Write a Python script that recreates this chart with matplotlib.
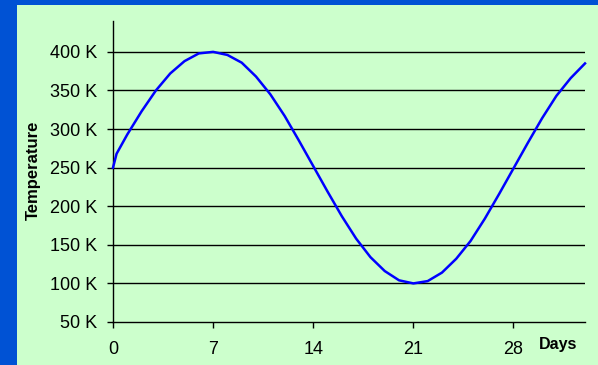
import matplotlib.pyplot as plt
from matplotlib.patches import Rectangle

# values
days = [0, 0.25, 1, 2, 3, 4, 5, 6, 7, 8, 9, 10, 11, 12, 13, 14, 15, 16, 17,
        18, 19, 20, 21, 22, 23, 24, 25, 26, 27, 28, 29, 30, 31, 32, 33]
temps = [250, 268, 293, 323, 350, 372, 388, 398, 400, 396, 386, 368, 345, 317, 285,
         252, 219, 187, 158, 134, 116, 104, 100, 103, 114, 132, 155, 184, 216,
         249, 282, 314, 343, 366, 385]
x_ticks = [0, 7, 14, 21, 28]
y_ticks = [50, 100, 150, 200, 250, 300, 350, 400]
y_labels = [f"{v} K" for v in y_ticks]

plt.rcParams['font.family'] = ['Liberation Sans', 'DejaVu Sans']

fig = plt.figure(figsize=(5.98, 3.65), dpi=100)
fig.patch.set_facecolor('#0052d4')
fig.patches.append(Rectangle((17 / 598, 0), 1, 1 - 5 / 365, transform=fig.transFigure,
                             facecolor='#ccffcc', edgecolor='none', zorder=-10))

ax = fig.add_axes([113 / 598, 43 / 365, 472 / 598, 301 / 365])
ax.set_facecolor('none')
ax.set_zorder(5)

for y in y_ticks[1:]:
    ax.axhline(y, color='black', linewidth=1, zorder=1)

ax.plot(days, temps, color='#0000ff', linewidth=1.8, zorder=3, clip_on=False)

ax.set_xlim(0, 33)
ax.set_ylim(50, 440)
ax.set_xticks(x_ticks)
ax.set_yticks(y_ticks)
ax.set_yticklabels(y_labels)
ax.tick_params(axis='both', direction='out', length=4.5, width=1, color='black',
               labelsize=13)
ax.tick_params(axis='x', pad=9)
ax.tick_params(axis='y', pad=7)

for s in ['top', 'right']:
    ax.spines[s].set_visible(False)
for s in ['left', 'bottom']:
    ax.spines[s].set_linewidth(1)
    ax.spines[s].set_color('black')

fig.text(558 / 598, 1 - 344 / 365, 'Days', fontsize=11.5, fontweight='bold',
         ha='center', va='center')
fig.text(33 / 598, 1 - 170 / 365, 'Temperature', fontsize=12, fontweight='bold',
         rotation=90, ha='center', va='center')

fig.savefig('out.png', dpi=100, facecolor=fig.get_facecolor())
